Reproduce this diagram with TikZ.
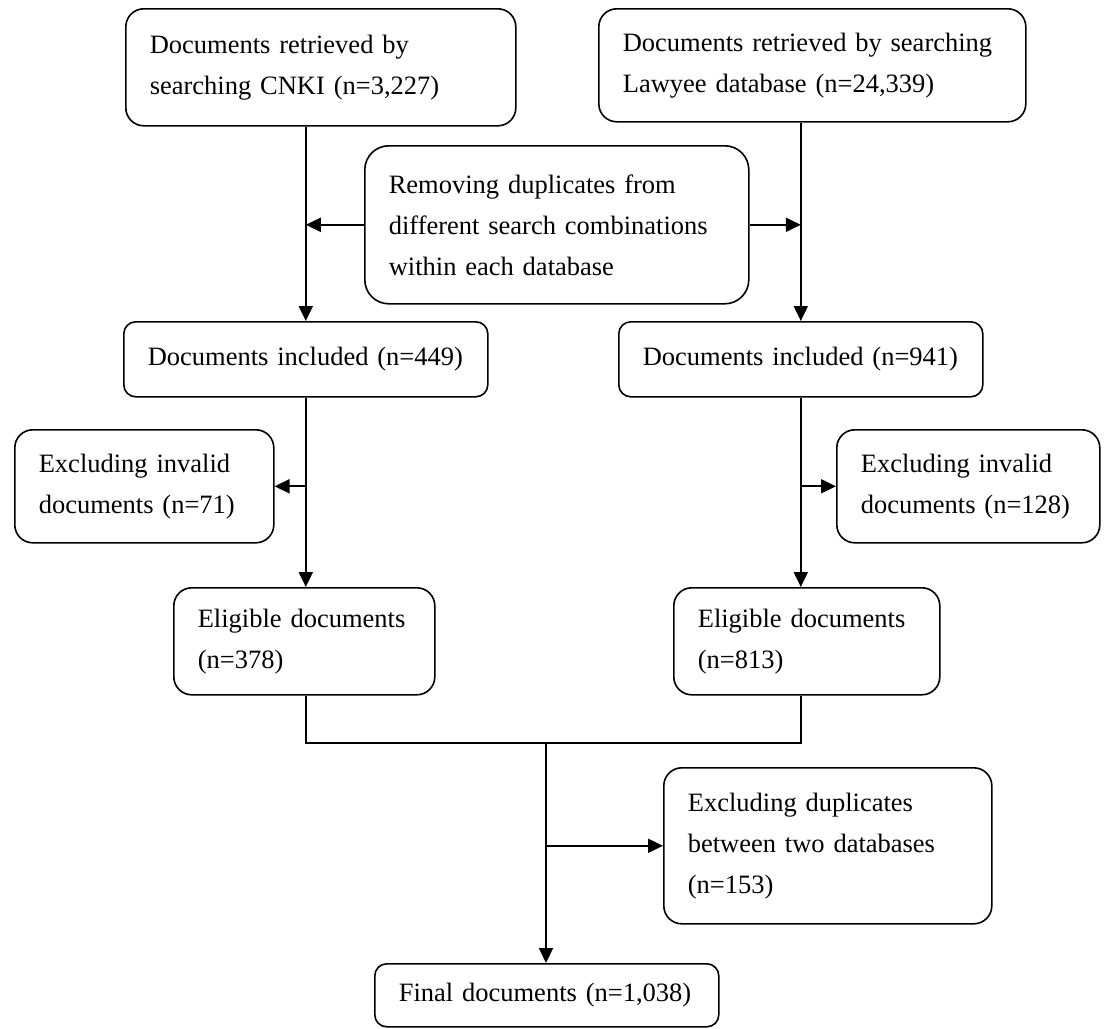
\documentclass[tikz,border=0pt]{standalone}
\usepackage{fontspec}
\setmainfont{Liberation Serif}
\usetikzlibrary{arrows.meta}

\begin{document}
\begin{tikzpicture}[x=1pt, y=-1pt,
    flowbox/.style={draw, line width=1.6pt, rounded corners=18pt, anchor=north west,
      align=left, inner xsep=24pt, inner ysep=0pt,
      font=\fontsize{26.5}{41}\selectfont},
    smallbox/.style={flowbox, rounded corners=12pt},
    link/.style={line width=2pt},
    arr/.style={link, -{Triangle[length=15pt,width=14pt]}}]
    \useasboundingbox (0,0) rectangle (1105,1028);

    % the two databases
    \node[flowbox, text width=342pt, minimum height=117pt] (cnki) at (125,8)
        {Documents retrieved by\\searching CNKI (n=3,227)};
    \node[flowbox, text width=379pt, minimum height=113pt] (lawyee) at (598,8)
        {Documents retrieved by searching\\Lawyee database (n=24,339)};
    \node[flowbox, rounded corners=24pt, text width=336pt, minimum height=158pt] (remove) at (364,145)
        {Removing duplicates from\\different search combinations\\within each database};

    % after removing duplicates
    \node[smallbox, text width=316pt, minimum height=75pt] (incl1) at (123,321)
        {Documents included (n=449)};
    \node[smallbox, text width=316pt, minimum height=75pt] (incl2) at (618,321)
        {Documents included (n=941)};
    \node[flowbox, text width=211pt, minimum height=113pt] (invalid1) at (14,429)
        {Excluding invalid\\documents (n=71)};
    \node[flowbox, text width=215pt, minimum height=113pt] (invalid2) at (836,429)
        {Excluding invalid\\documents (n=128)};
    \node[flowbox, text width=213pt, minimum height=107pt] (elig1) at (173,587)
        {Eligible documents\\(n=378)};
    \node[flowbox, text width=218pt, minimum height=107pt] (elig2) at (673,587)
        {Eligible documents\\(n=813)};

    % merging both databases
    \coordinate (join) at (546,743);
    \node[flowbox, text width=280pt, minimum height=156pt] (dupl) at (663,767)
        {Excluding duplicates\\between two databases\\(n=153)};
    \node[smallbox, text width=296pt, minimum height=63pt] (final) at (374,963)
        {Final documents (n=1,038)};

    \draw[arr] (cnki.south -| incl1.north) -- (incl1.north);
    \draw[arr] (lawyee.south -| incl2.north) -- (incl2.north);
    \draw[arr] (remove.west) -- (remove.west -| incl1.north);
    \draw[arr] (remove.east) -- (remove.east -| incl2.north);

    \draw[arr] (incl1.south) -- (incl1.south |- elig1.north);
    \draw[arr] (incl2.south) -- (incl2.south |- elig2.north);
    \draw[arr] (invalid1.east -| incl1.south) -- (invalid1.east);
    \draw[arr] (invalid2.west -| incl2.south) -- (invalid2.west);

    \draw[link] (elig1.south -| incl1.south) -- (incl1.south |- join)
        -- (incl2.south |- join) -- (elig2.south -| incl2.south);
    \draw[arr] (join) -- (join |- final.north);
    \draw[arr] (dupl.west -| join) -- (dupl.west);
\end{tikzpicture}
\end{document}
